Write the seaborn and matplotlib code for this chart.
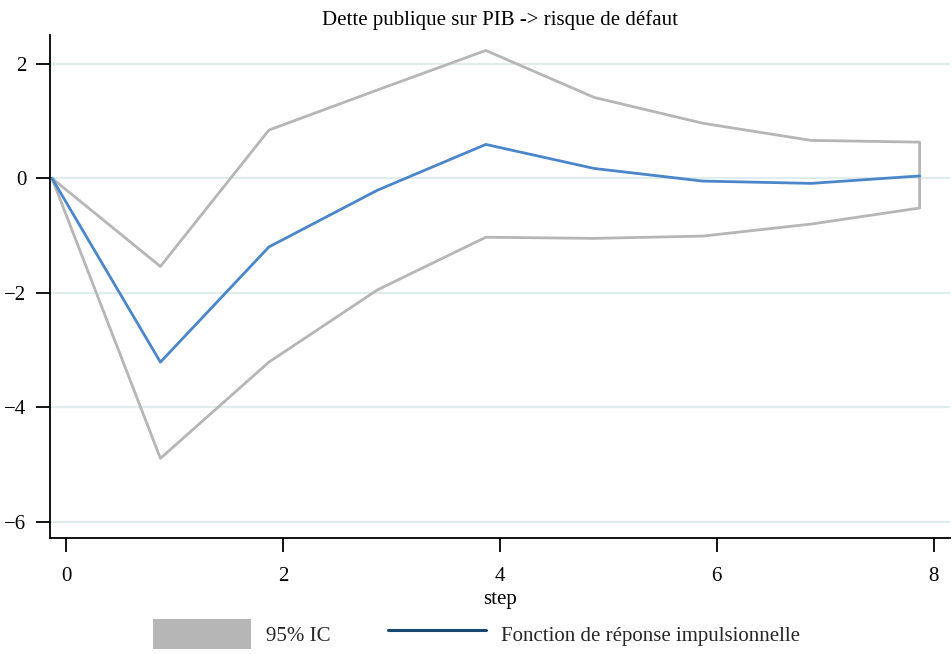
import matplotlib
matplotlib.use("Agg")
import matplotlib.pyplot as plt
import seaborn as sns
import pandas as pd
import numpy as np
from matplotlib.patches import Patch
from matplotlib.lines import Line2D

steps = [0, 1, 2, 3, 4, 5, 6, 7, 8]
irf = [0.0, -3.21, -1.20, -0.21, 0.59, 0.17, -0.05, -0.09, 0.04]
upper = [0.0, -1.54, 0.84, 1.54, 2.23, 1.41, 0.96, 0.66, 0.63]
lower = [0.0, -4.89, -3.21, -1.95, -1.03, -1.05, -1.01, -0.80, -0.52]
x_ticks = [0, 2, 4, 6, 8]
y_ticks = [-6, -4, -2, 0, 2]
title = "Dette publique sur PIB -> risque de défaut"
x_label = "step"
legend_labels = ["95% IC", "Fonction de réponse impulsionnelle"]

sns.set_theme(style="white")
plt.rcParams["font.family"] = ["Liberation Serif", "DejaVu Serif"]

fig = plt.figure(figsize=(9.53, 6.54), dpi=100)
ax = fig.add_axes([50/953, 1-538/654, 900/953, (538-35)/654])

ci_col = "#b6b6b6"
line_col = "#4a86c8"
leg_line_col = "#1a476f"
grid_col = "#e1eded"

for yt in y_ticks:
    ax.axhline(yt, color=grid_col, lw=1.6, zorder=0)

# CI outline (closed polygon, like Stata rarea outline)
poly = pd.DataFrame({
    "x": steps + steps[::-1] + [steps[0]],
    "y": upper + lower[::-1] + [upper[0]],
})
sns.lineplot(data=poly, x="x", y="y", sort=False, estimator=None,
             color=ci_col, lw=2.0, ax=ax, zorder=2)

df = pd.DataFrame({"step": steps, "irf": irf})
sns.lineplot(data=df, x="step", y="irf", color=line_col, lw=2.0, ax=ax, zorder=3)

offset = 0.13
ax.set_xlim(-0.018, 8.28)
ax.set_ylim(-6.28, 2.50)
ax.set_xticks([t + offset for t in x_ticks])
ax.set_xticklabels([str(t) for t in x_ticks])
ax.set_yticks(y_ticks)
ax.set_yticklabels([str(t).replace("-", "\u2212") for t in y_ticks])

for s in ["top", "right"]:
    ax.spines[s].set_visible(False)
for s in ["left", "bottom"]:
    ax.spines[s].set_color("black")
    ax.spines[s].set_linewidth(1.3)

ax.tick_params(axis="both", direction="out", length=10, width=1.3,
               color="black", labelsize=15, labelcolor="black",
               left=True, bottom=True)
ax.tick_params(axis="x", pad=11)
ax.tick_params(axis="y", pad=7)
ax.set_xlabel(x_label, fontsize=15, color="black", labelpad=3)
ax.set_ylabel("")
ax.set_title(title, fontsize=15, color="black", pad=7)

handles = [Patch(facecolor=ci_col, edgecolor="none"),
           Line2D([0], [0], color=leg_line_col, lw=2.2)]
fig.legend(handles, legend_labels, loc="center", bbox_to_anchor=(0.5, 1-634/654),
           ncol=2, frameon=False, fontsize=15, handlelength=4.7, handleheight=1.9,
           columnspacing=2.8, handletextpad=0.72)

fig.savefig("out.png", dpi=100, facecolor="white")
